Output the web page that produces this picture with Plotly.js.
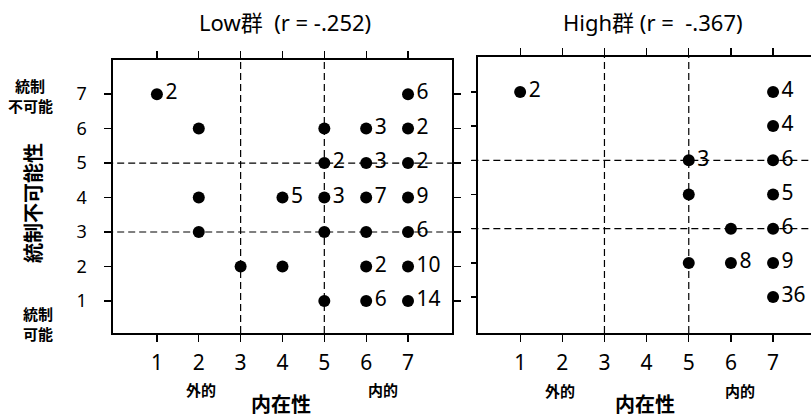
<!DOCTYPE html>
<html>
<head>
<meta charset="utf-8">
<script src="https://cdn.plot.ly/plotly-3.0.1.min.js"></script>
<style>html,body{margin:0;padding:0;background:#fff;}#chart{width:811px;height:417px;}</style>
</head>
<body>
<div id="chart"></div>
<script>
// Low group: internality (x), uncontrollability (y), count
const lowX = [1,7,2,5,6,7,5,6,7,2,4,5,6,7,2,5,6,7,3,4,6,7,5,6,7];
const lowY = [7,7,6,6,6,6,5,5,5,4,4,4,4,4,3,3,3,3,2,2,2,2,1,1,1];
const lowN = [2,6,1,1,3,2,2,3,2,1,5,3,7,9,1,1,1,6,1,1,2,10,1,6,14];
// High group
const highX = [1,7,7,5,7,5,7,6,7,5,6,7,7];
const highY = [7,7,6,5,5,4,4,3,3,2,2,2,1];
const highN = [2,4,4,3,6,1,5,1,6,1,8,9,36];
// cut-off reference lines
const cutX = [3,5];
const cutY = [3,5];
const ticks = [1,2,3,4,5,6,7];
const titles = ['Low群  (r = -.252)', 'High群 (r =  -.367)'];

const FONT = '"Noto Sans", "Noto Sans CJK JP", sans-serif';
const CJK = '"Noto Sans CJK JP", sans-serif';

function lbl(n){ return n.map(v => v > 1 ? String(v) : ''); }

const mk = {color:'#000', size:12, line:{width:0}};
const tf = {family:FONT, size:21, color:'#000'};

const traces = [
  {x:lowX, y:lowY, text:lbl(lowN), mode:'markers+text', textposition:'middle right',
   marker:mk, textfont:tf, xaxis:'x', yaxis:'y', cliponaxis:false, hoverinfo:'none', showlegend:false},
  {x:highX, y:highY, text:lbl(highN), mode:'markers+text', textposition:'middle right',
   marker:mk, textfont:tf, xaxis:'x2', yaxis:'y2', cliponaxis:false, hoverinfo:'none', showlegend:false}
];

const shapes = [];
[['x','y'],['x2','y2']].forEach(([xa,ya]) => {
  cutX.forEach(v => shapes.push({type:'line', xref:xa, yref:ya+' domain', x0:v, x1:v, y0:0, y1:1,
    line:{color:'#000', width:1.2, dash:'7px,4px'}, layer:'below'}));
  cutY.forEach(v => shapes.push({type:'line', xref:xa+' domain', yref:ya, x0:-0.02, x1:1.02, y0:v, y1:v,
    line:{color:'#000', width:1.2, dash:'7px,4px'}, layer:'below'}));
});

const axBase = {showgrid:false, zeroline:false, showline:true, linecolor:'#000', linewidth:1.6,
  ticks:'outside', ticklen:7, tickwidth:1.3, tickcolor:'#000', tickvals:ticks, fixedrange:true};

const layout = {
  width:811, height:417,
  margin:{l:0, r:0, t:0, b:0},
  paper_bgcolor:'#fff', plot_bgcolor:'#fff',
  font:{family:FONT, color:'#000'},
  xaxis:Object.assign({}, axBase, {domain:[0.1393,0.5573], range:[-0.05,8.05], anchor:'y', mirror:'ticks',
    tickfont:{family:FONT, size:21}, ticklabelstandoff:3}),
  yaxis:Object.assign({}, axBase, {domain:[0.2014,0.8561], range:[0.07,7.99], anchor:'x', mirror:'ticks',
    tickfont:{family:FONT, size:18}, ticklabelstandoff:14}),
  xaxis2:Object.assign({}, axBase, {domain:[0.5894,1.0], range:[0.0,7.9], anchor:'y2', mirror:'ticks',
    tickfont:{family:FONT, size:21}, ticklabelstandoff:3}),
  yaxis2:Object.assign({}, axBase, {domain:[0.2014,0.8633], range:[-0.05,8.02], anchor:'x2', mirror:false,
    showticklabels:false, ticklen:5}),
  shapes: shapes,
  annotations: [
    {text:titles[0], x:285, y:22, size:22},
    {text:titles[1], x:653, y:22, size:22},
    {text:'<b>外的</b>', x:201, y:389, size:15, font:CJK},
    {text:'<b>内的</b>', x:383, y:389, size:15, font:CJK},
    {text:'<b>内在性</b>', x:281, y:403, size:20, font:CJK},
    {text:'<b>外的</b>', x:560, y:390, size:15, font:CJK},
    {text:'<b>内的</b>', x:740, y:390, size:15, font:CJK},
    {text:'<b>内在性</b>', x:645, y:403, size:20, font:CJK},
    {text:'<b>統制</b>', x:30, y:85, size:15, font:CJK},
    {text:'<b>不可能</b>', x:30, y:106, size:15, font:CJK},
    {text:'<b>統制</b>', x:38, y:313, size:15, font:CJK},
    {text:'<b>可能</b>', x:38, y:333, size:15, font:CJK},
    {text:'<b>統制不可能性</b>', x:32, y:203, size:20, font:CJK, angle:-90}
  ].map(a => ({
    text:a.text, xref:'paper', yref:'paper', x:a.x/811, y:1 - a.y/417,
    xanchor:'center', yanchor:'middle', showarrow:false, textangle:a.angle || 0,
    font:{family:a.font || FONT, size:a.size || 19, color:'#000'}
  }))
};

Plotly.newPlot('chart', traces, layout, {staticPlot:true, displayModeBar:false});
</script>
</body>
</html>
